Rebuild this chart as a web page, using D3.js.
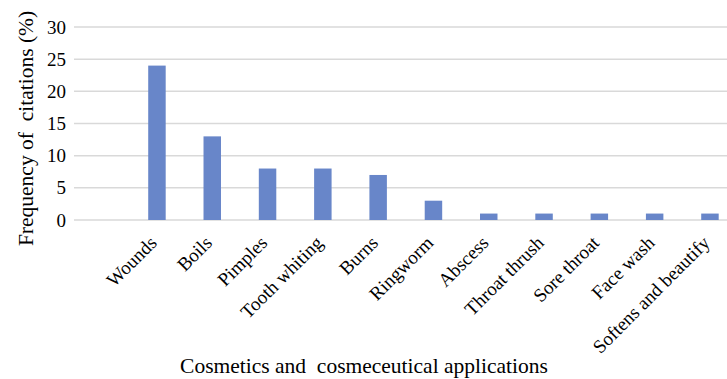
<!DOCTYPE html>
<html>
<head>
<meta charset="utf-8">
<script src="https://cdn.jsdelivr.net/npm/d3@7"></script>
<style>
  body { margin: 0; background: #fff; }
  svg { display: block; font-family: "Liberation Serif", "Times New Roman", serif; }
</style>
</head>
<body>
<svg id="chart"></svg>
<script>
const categories = ["Wounds", "Boils", "Pimples", "Tooth whiting", "Burns", "Ringworm",
  "Abscess", "Throat thrush", "Sore throat", "Face wash", "Softens and beautify"];
const values = [24, 13, 8, 8, 7, 3, 1, 1, 1, 1, 1];
const yTicks = [0, 5, 10, 15, 20, 25, 30];

const width = 727, height = 379;
const plot = { left: 74, right: 727, top: 27, bottom: 220 };
const step = 55.3;

const svg = d3.select("#chart").attr("width", width).attr("height", height);

const x = d3.scaleBand()
  .domain(categories)
  .range([plot.left + step, plot.left + step * (categories.length + 1)])
  .paddingInner(0.684)
  .paddingOuter(0.342);

const y = d3.scaleLinear().domain([0, 30]).range([plot.bottom, plot.top]);

// gridlines
svg.append("g")
  .selectAll("line")
  .data(yTicks)
  .join("line")
  .attr("x1", plot.left)
  .attr("x2", plot.right)
  .attr("y1", d => y(d))
  .attr("y2", d => y(d))
  .style("stroke", "#d9d9d9")
  .style("stroke-width", 1.5);

// y tick labels
svg.append("g")
  .selectAll("text")
  .data(yTicks)
  .join("text")
  .attr("x", 66)
  .attr("y", d => y(d))
  .attr("dy", "0.35em")
  .attr("text-anchor", "end")
  .style("font-size", "19px")
  .style("fill", "#000")
  .text(d => d);

// bars
svg.append("g")
  .selectAll("rect")
  .data(values)
  .join("rect")
  .attr("x", (d, i) => x(categories[i]))
  .attr("width", x.bandwidth())
  .attr("y", d => y(d))
  .attr("height", d => y(0) - y(d))
  .style("fill", "#6886c9");

// x labels
svg.append("g")
  .selectAll("text")
  .data(categories)
  .join("text")
  .attr("transform", d => `translate(${x(d) + x.bandwidth() / 2 + 1},244) rotate(-45)`)
  .attr("text-anchor", "end")
  .style("font-size", "19px")
  .style("fill", "#000")
  .text(d => d);

// axis titles
svg.append("text")
  .attr("x", 364)
  .attr("y", 373)
  .attr("text-anchor", "middle")
  .style("font-size", "21.5px")
  .style("white-space", "pre")
  .text("Cosmetics and  cosmeceutical applications");

svg.append("text")
  .attr("transform", "translate(33,128.5) rotate(-90)")
  .attr("text-anchor", "middle")
  .style("font-size", "21.5px")
  .style("white-space", "pre")
  .text("Frequency of  citations (%)");
</script>
</body>
</html>
